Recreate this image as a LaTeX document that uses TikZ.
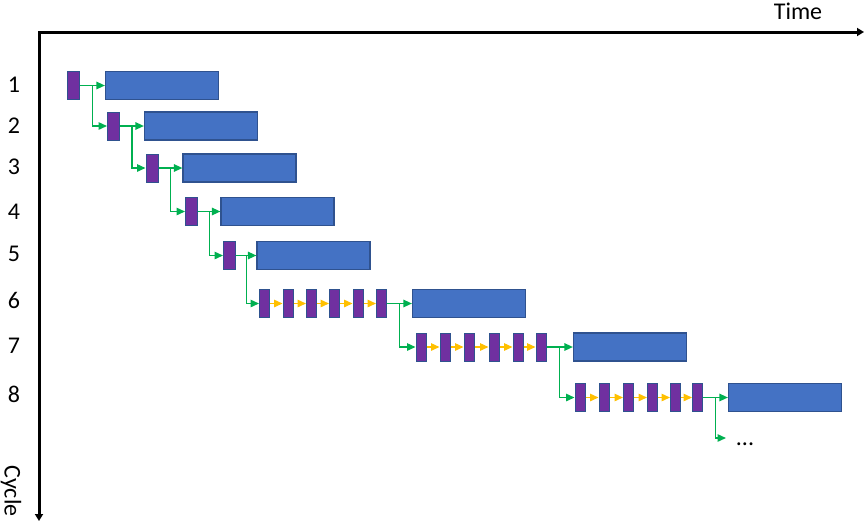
\documentclass[tikz,border=0pt]{standalone}
\usepackage{fontspec}
\setmainfont{Carlito}
\usetikzlibrary{arrows.meta,calc}
\definecolor{setupfill}{HTML}{7030A0}
\definecolor{boxedge}{HTML}{2F528F}
\definecolor{workfill}{HTML}{4472C4}
\definecolor{flowgreen}{HTML}{00B050}
\definecolor{loopyellow}{HTML}{FFC000}
\tikzset{
  setup/.style={draw=boxedge, fill=setupfill, line width=1pt, minimum width=12pt, minimum height=28pt, inner sep=0pt},
  thin setup/.style={setup, minimum width=10pt},
  work/.style={draw=boxedge, fill=workfill, line width=1.2pt, minimum width=113pt, minimum height=28pt, inner sep=0pt},
  flow/.style={draw=flowgreen, line width=1.4pt},
  loop/.style={draw=loopyellow, line width=1.4pt},
  axis/.style={line width=3pt, line join=miter},
  rownum/.style={inner sep=0pt, text depth=0pt}
}
\begin{document}
\begin{tikzpicture}[x=1pt, y=-1pt, >={Triangle[length=8.5pt,width=7.5pt]}, font=\fontsize{24}{28}\selectfont, line cap=butt]
\useasboundingbox (0,0) rectangle (868,525);
% axes
\coordinate (T) at (864,32);
\coordinate (O) at (39,32);
\coordinate (C) at (39,521);
\draw[axis,{Triangle[length=7pt,width=8pt]}-{Triangle[length=7pt,width=8pt]}] (T) -- (O) -- (C);
\node (time) at (798,11) {Time};
\node[rotate=-90] (cycle) at (11,491) {Cycle};
\foreach \r/\y in {1/85,2/126,3/167,4/212,5/254,6/300,7/346,8/394}{
  \node[rownum] (n\r) at (14,\y) {\r};
}
% single setup rows
\foreach \r/\x/\y/\w in {1/73.5/85.5/162,2/113.5/126/201,3/152/168/239.5,4/191.5/211.5/277.5,5/229.5/255.5/313.5}{
  \node[setup] (s\r-1) at (\x,\y) {};
  \node[work] (w\r) at (\w,\y) {};
}
% repeated setup rows
\foreach \r/\y/\xs/\w in {6/303.5/{264.5,288,311.5,334.5,358,381.5}/469,
                          7/347/{421,445,469,494,518,541}/630,
                          8/397.5/{580,604,628.5,652.5,675.5,697.5}/785}{
  \foreach \x [count=\i] in \xs
    \node[thin setup] (s\r-\i) at (\x,\y) {};
  \node[work] (w\r) at (\w,\y) {};
  \foreach \i [evaluate=\i as \j using int(\i+1)] in {1,...,5}
    \draw[loop,->] (s\r-\i) -- (s\r-\j);
}
% hand over to next cycle
\foreach \r/\l/\n in {1/s1-1/s2-1,2/s2-1/s3-1,3/s3-1/s4-1,4/s4-1/s5-1,5/s5-1/s6-1,6/s6-6/s7-1,7/s7-6/s8-1}{
  \coordinate (m\r) at ($(\l.east)!.5!(w\r.west)$);
  \draw[flow,->] (\l) -- (w\r);
  \draw[flow,->] (m\r) |- (\n.west);
}
\coordinate (m8) at ($(s8-6.east)!.5!(w8.west)$);
\coordinate (more) at (726,438);
\draw[flow,->] (s8-6) -- (w8);
\draw[flow,->] (m8) |- (more);
\node[anchor=base] (dots) at (745,445.5) {...};
\end{tikzpicture}
\end{document}
